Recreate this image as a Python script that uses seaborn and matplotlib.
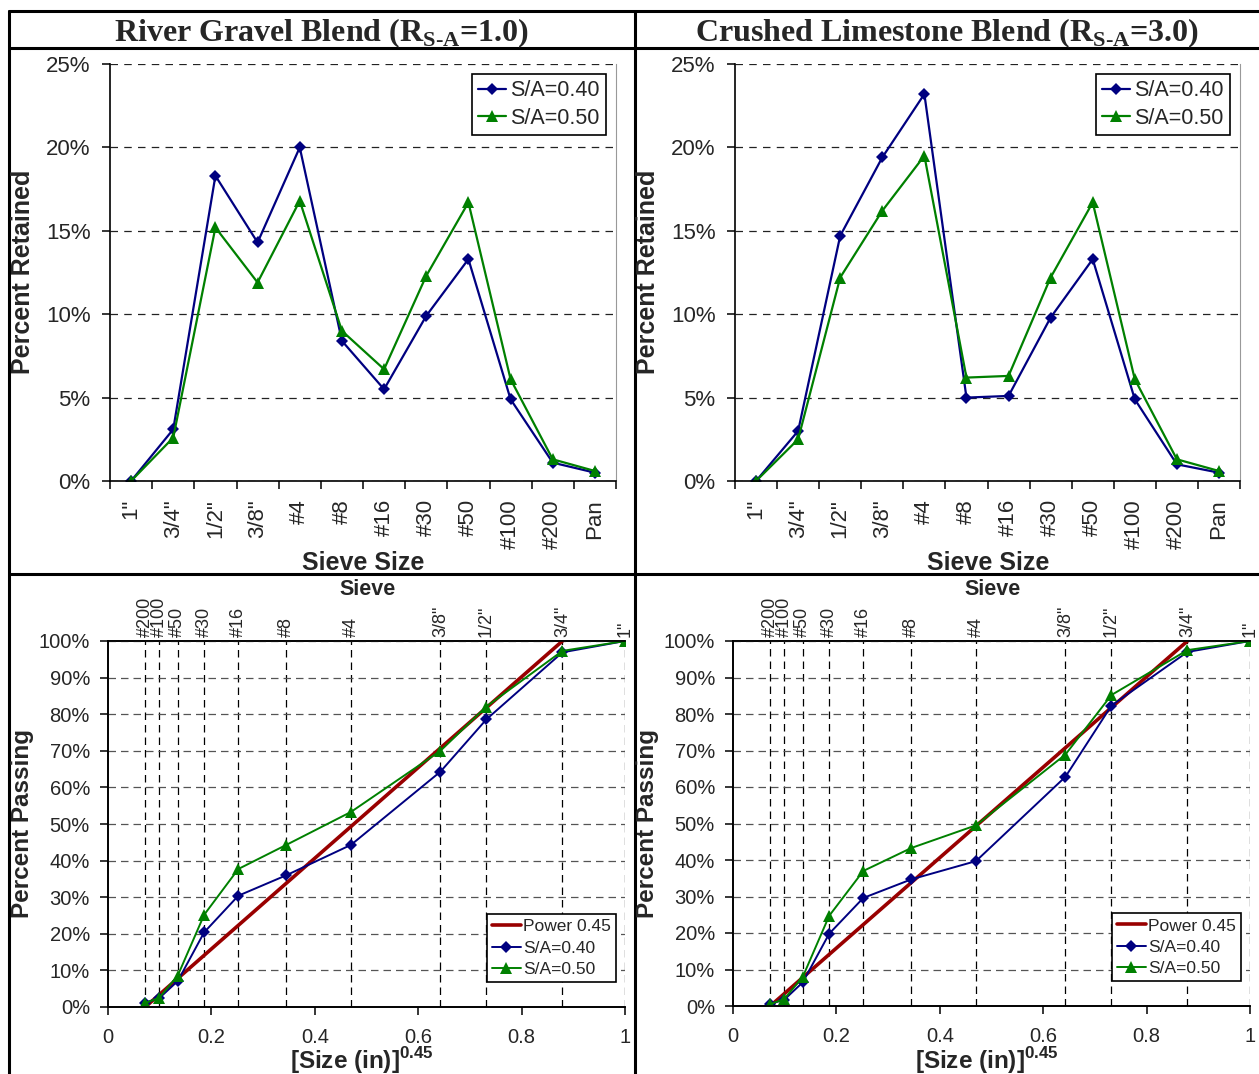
import numpy as np
import pandas as pd
import matplotlib
matplotlib.use('Agg')
import matplotlib.pyplot as plt
import seaborn as sns
from matplotlib.lines import Line2D
from matplotlib.ticker import FuncFormatter

# sieve stack for the retained charts (coarse -> fine)
sieves = ['1"', '3/4"', '1/2"', '3/8"', '#4', '#8', '#16', '#30', '#50', '#100', '#200', 'Pan']

# percent retained on each sieve
gravel_ret_40 = [0.0, 3.1, 18.3, 14.3, 20.0, 8.4, 5.5, 9.9, 13.3, 4.9, 1.1, 0.5]
gravel_ret_50 = [0.0, 2.6, 15.2, 11.9, 16.8, 9.0, 6.7, 12.3, 16.7, 6.1, 1.3, 0.6]
lime_ret_40 = [0.0, 3.0, 14.7, 19.4, 23.2, 5.0, 5.1, 9.8, 13.3, 4.9, 1.0, 0.5]
lime_ret_50 = [0.0, 2.5, 12.2, 16.2, 19.5, 6.2, 6.3, 12.2, 16.7, 6.1, 1.3, 0.6]

# gradation charts (fine -> coarse), x is [size (in)]^0.45
grad_sieves = ['#200', '#100', '#50', '#30', '#16', '#8', '#4', '3/8"', '1/2"', '3/4"', '1"']
grad_x = [0.072, 0.099, 0.135, 0.186, 0.252, 0.345, 0.470, 0.643, 0.732, 0.879, 1.0]
gravel_pass_40 = [1.2, 2.4, 7.1, 20.4, 30.4, 36.0, 44.3, 64.3, 78.6, 96.9, 100.0]
gravel_pass_50 = [1.1, 2.5, 8.6, 25.2, 37.7, 44.3, 53.3, 70.0, 82.1, 97.3, 100.0]
lime_pass_40 = [0.6, 1.7, 6.5, 19.8, 29.6, 34.7, 39.7, 62.8, 82.3, 97.0, 100.0]
lime_pass_50 = [0.5, 1.9, 8.0, 24.7, 37.0, 43.3, 49.5, 68.9, 85.2, 97.5, 100.0]

# maximum density line (0.45 power), #200 -> nominal max size
power_x = [0.072, 0.879]
power_y = [0.0, 100.0]

BLUE = '#000080'
GREEN = '#008000'
RED = '#990000'

sns.set_style('ticks')
plt.rcParams['font.family'] = ['Liberation Sans', 'DejaVu Sans']
plt.rcParams['mathtext.fontset'] = 'custom'
plt.rcParams['mathtext.rm'] = 'Liberation Serif:bold'
plt.rcParams['mathtext.sf'] = 'Liberation Sans:bold'

W, H = 1259, 1074
fig = plt.figure(figsize=(W / 100, H / 100), dpi=100)


def px_axes(l, t, r, b):
    return fig.add_axes([l / W, 1 - b / H, (r - l) / W, (b - t) / H])


def pct(v, pos):
    return '{:.0f}%'.format(v)


def retained_panel(ax, r40, r50):
    sns.lineplot(x=sieves, y=r40, color=BLUE, marker='D', markersize=6, markeredgewidth=0,
                 lw=1.6, sort=False, label='S/A=0.40', ax=ax)
    sns.lineplot(x=sieves, y=r50, color=GREEN, marker='^', markersize=8, markeredgewidth=0,
                 lw=1.6, sort=False, label='S/A=0.50', ax=ax)
    ax.set_xlim(-0.5, 11.5)
    ax.set_ylim(0, 25)
    ax.set_yticks(np.arange(0, 26, 5))
    ax.yaxis.set_major_formatter(FuncFormatter(pct))
    ax.set_xticks(range(len(sieves)))
    ax.set_xticklabels(sieves, rotation=90)
    ax.set_xticks(np.arange(-0.5, 12, 1), minor=True)
    ax.tick_params(axis='x', which='major', length=0, pad=13, labelsize=16)
    ax.tick_params(axis='x', which='minor', length=6, width=1.1, color='black')
    ax.tick_params(axis='y', length=6, width=1.1, pad=8, labelsize=16, color='black')
    ax.grid(axis='y', ls=(0, (6, 5)), color='#222222', lw=0.9)
    ax.grid(axis='x', visible=False)
    ax.spines['top'].set_visible(False)
    ax.spines['right'].set_color('#999999')
    for s in ['left', 'bottom']:
        ax.spines[s].set_color('black')
        ax.spines[s].set_linewidth(1.2)
    ax.set_xlabel('')
    ax.set_ylabel('')
    leg = ax.legend(loc='upper right', fontsize=15.5, frameon=True, fancybox=False,
                    edgecolor='black', framealpha=1, handlelength=1.3, handletextpad=0.2,
                    borderpad=0.3, labelspacing=0.3, borderaxespad=0.45)
    leg.get_frame().set_linewidth(1.2)


def passing_panel(ax, p40, p50):
    top = ax.twiny()
    top.set_xlim(0, 1)
    top.set_xticks(grad_x)
    top.set_xticklabels(grad_sieves, rotation=90)
    top.tick_params(axis='x', length=0, pad=3, labelsize=13)
    top.grid(axis='x', ls=(0, (6, 4)), color='black', lw=0.9)
    ax.set_zorder(top.get_zorder() + 1)
    ax.patch.set_visible(False)

    sns.lineplot(x=power_x, y=power_y, color=RED, lw=2.6, sort=False, label='Power 0.45', ax=ax)
    sns.lineplot(x=grad_x, y=p40, color=BLUE, marker='D', markersize=6, markeredgewidth=0,
                 lw=1.4, sort=False, label='S/A=0.40', ax=ax)
    sns.lineplot(x=grad_x, y=p50, color=GREEN, marker='^', markersize=8, markeredgewidth=0,
                 lw=1.4, sort=False, label='S/A=0.50', ax=ax)
    ax.set_xlim(0, 1)
    ax.set_ylim(0, 100)
    ax.set_xticks(np.arange(0, 1.01, 0.2))
    ax.set_xticklabels(['0', '0.2', '0.4', '0.6', '0.8', '1'])
    ax.set_yticks(np.arange(0, 101, 10))
    ax.yaxis.set_major_formatter(FuncFormatter(pct))
    ax.tick_params(axis='x', length=6, width=1.1, pad=9, labelsize=14.5, color='black')
    ax.tick_params(axis='y', length=6, width=1.1, pad=7, labelsize=14.5, color='black')
    ax.grid(axis='y', ls=(0, (6, 4)), color='#555555', lw=0.9)
    ax.grid(axis='x', visible=False)
    for a in (ax, top):
        a.spines['right'].set_visible(False)
        for s in ['left', 'bottom', 'top']:
            a.spines[s].set_color('black')
            a.spines[s].set_linewidth(1.2)
    ax.set_xlabel('')
    ax.set_ylabel('')
    leg = ax.legend(loc='lower right', bbox_to_anchor=(0.983, 0.068), fontsize=12.5,
                    frameon=True, fancybox=False, edgecolor='black', framealpha=1,
                    handlelength=1.65, handletextpad=0.15, borderpad=0.3, labelspacing=0.35,
                    borderaxespad=0)
    leg.get_frame().set_linewidth(1.2)


ax_tl = px_axes(110, 64, 616, 481)
ax_tr = px_axes(735, 64, 1240, 481)
ax_bl = px_axes(108, 641, 625, 1007)
ax_br = px_axes(733, 641, 1250, 1006)

retained_panel(ax_tl, gravel_ret_40, gravel_ret_50)
retained_panel(ax_tr, lime_ret_40, lime_ret_50)
passing_panel(ax_bl, gravel_pass_40, gravel_pass_50)
passing_panel(ax_br, lime_pass_40, lime_pass_50)


def ftext(x, y, s, **kw):
    fig.text(x / W, 1 - y / H, s, **kw)


# table style titles
ftext(322, 41, r'River Gravel Blend (R$_{\mathrm{S}\text{-}\mathrm{A}}$=1.0)', ha='center', va='baseline',
      family='Liberation Serif', weight='bold', fontsize=23)
ftext(947, 41, r'Crushed Limestone Blend (R$_{\mathrm{S}\text{-}\mathrm{A}}$=3.0)', ha='center', va='baseline',
      family='Liberation Serif', weight='bold', fontsize=23)

for dx in (0, 625):
    ftext(23 + dx, 272, 'Percent Retained', rotation=90, ha='center', va='center',
          weight='bold', fontsize=18)
    ftext(363 + dx, 570, 'Sieve Size', ha='center', va='baseline', weight='bold', fontsize=18)
    ftext(368 + dx, 595, 'Sieve', ha='center', va='baseline', weight='bold', fontsize=15.5)
    ftext(23 + dx, 824, 'Percent Passing', rotation=90, ha='center', va='center',
          weight='bold', fontsize=17.5)
    ftext(362 + dx, 1069, r'[Size (in)]$^{\mathsf{0.45}}$', ha='center', va='baseline',
          weight='bold', fontsize=17.5)

# cell borders
border = dict(color='black', lw=2.2, transform=fig.transFigure)
for y in (11, 48, 574):
    fig.add_artist(Line2D([9 / W, 1], [1 - y / H, 1 - y / H], **border))
for x in (9, 635):
    fig.add_artist(Line2D([x / W, x / W], [1 - 11 / H, 0], **border))

fig.savefig('out.png', dpi=100)
